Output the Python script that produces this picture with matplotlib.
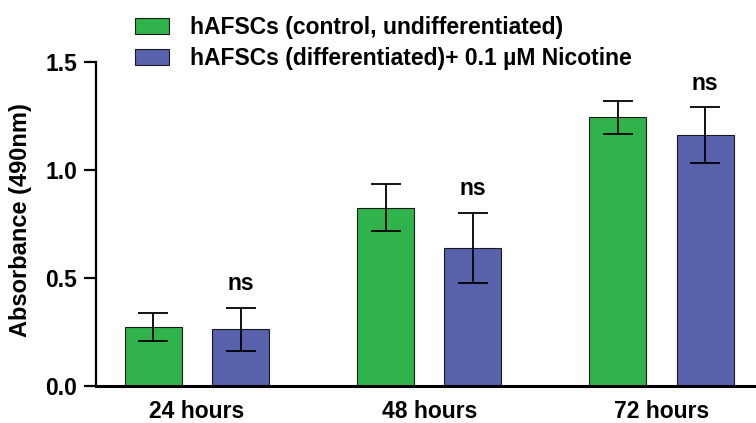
import matplotlib
matplotlib.use("Agg")
import matplotlib.pyplot as plt
import numpy as np

plt.rcParams['font.family'] = ['Liberation Sans', 'DejaVu Sans']
plt.rcParams['font.weight'] = 'bold'

categories = ["24 hours", "48 hours", "72 hours"]
series_names = ["hAFSCs (control, undifferentiated)",
                "hAFSCs (differentiated)+ 0.1 µM Nicotine"]
control_mean = [0.273, 0.825, 1.243]
control_err = [0.063, 0.108, 0.075]
nicotine_mean = [0.263, 0.640, 1.160]
nicotine_err = [0.100, 0.163, 0.130]
sig_labels = ["ns", "ns", "ns"]

green = "#2fb34a"
blue = "#5861ab"
FS = 16.5

fig = plt.figure(figsize=(7.56, 4.23), dpi=100)
ax = fig.add_axes([0.127, 0.0875, 0.873, 0.766])

x = np.arange(len(categories))
w = 0.245
off = 0.188
err_kw = dict(ecolor='black', elinewidth=1.3, capsize=10.5, capthick=1.3)
b1 = ax.bar(x - off, control_mean, w, yerr=control_err, color=green,
            edgecolor='#1a1a1a', linewidth=0.8, error_kw=err_kw, label=series_names[0])
b2 = ax.bar(x + off, nicotine_mean, w, yerr=nicotine_err, color=blue,
            edgecolor='#1a1a1a', linewidth=0.8, error_kw=err_kw, label=series_names[1])

for xi, m, e, s in zip(x, nicotine_mean, nicotine_err, sig_labels):
    ax.annotate(s, (xi + off, m + e), xytext=(0, 9), textcoords='offset points',
                ha='center', va='bottom', fontsize=FS, fontweight='bold')

ax.set_xlim(-0.435, 2.407)
ax.set_ylim(0, 1.5)
ax.set_yticks([0.0, 0.5, 1.0, 1.5])
ax.set_yticklabels(["0.0", "0.5", "1.0", "1.5"])
ax.set_xticks(x)
ax.set_xticklabels(categories)
ax.tick_params(axis='x', length=0, pad=10, labelsize=FS)
ax.tick_params(axis='y', length=8.5, width=1.6, pad=5, labelsize=FS)
for lab in ax.get_xticklabels() + ax.get_yticklabels():
    lab.set_fontweight('bold')

ax.spines['top'].set_visible(False)
ax.spines['right'].set_visible(False)
ax.spines['left'].set_linewidth(1.6)
ax.spines['bottom'].set_linewidth(2.2)

ax.set_ylabel("Absorbance (490nm)", fontsize=17, fontweight='bold')
ax.yaxis.set_label_coords(-0.097, 0.512)

fig.legend(handles=[b1, b2], labels=series_names, loc='upper left',
           bbox_to_anchor=(0.157, 1.0), frameon=False,
           handlelength=1.5, handleheight=0.68, handletextpad=0.93,
           labelspacing=0.36, borderaxespad=0.3,
           prop={'weight': 'bold', 'size': FS})

fig.savefig("out.png", dpi=100)
